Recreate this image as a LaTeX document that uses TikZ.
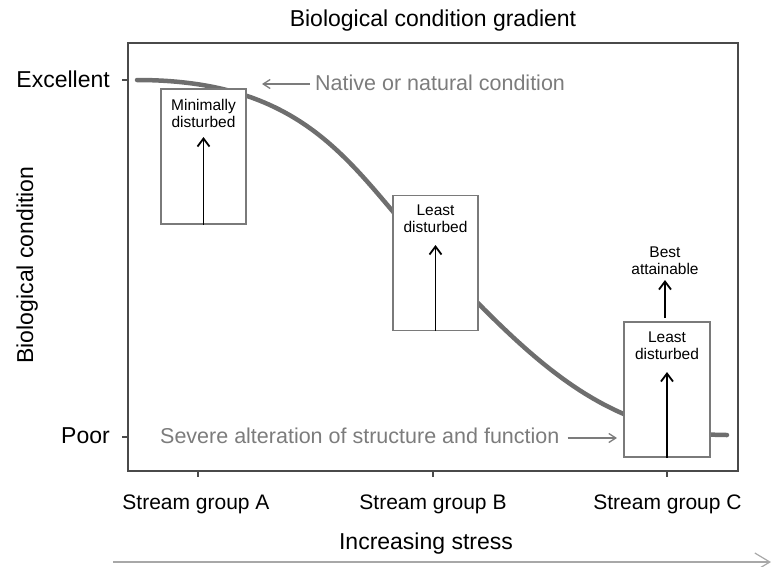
\documentclass[tikz,border=0pt]{standalone}
\usepackage{fontspec}
\setmainfont{Liberation Sans}
\usetikzlibrary{arrows.meta}
\definecolor{curvegray}{HTML}{6E6E6E}
\definecolor{framegray}{HTML}{4A4A4A}
\definecolor{boxgray}{HTML}{7A7A7A}
\definecolor{notegray}{HTML}{7C7C7C}
\definecolor{lightgray2}{HTML}{A8A8A8}
\begin{document}
\begin{tikzpicture}[x=1pt,y=-1pt,
  frame/.style={draw=framegray,line width=1.6pt},
  tickline/.style={draw=framegray,line width=1.3pt},
  curveline/.style={draw=curvegray,line width=4.5pt,line cap=round},
  bx/.style={draw=boxgray,fill=white,line width=1.1pt,inner sep=0pt,minimum width=85pt,minimum height=135pt},
  bt/.style={align=center,inner sep=0pt,font=\fontsize{15.5}{17.3}\selectfont},
  blk/.style={draw=black,line width=1.8pt,-{Straight Barb[length=8pt,width=12pt,line width=1.8pt]}},
  garr/.style={draw=notegray,line width=1.3pt,-{Straight Barb[length=7pt,width=9pt,line width=1.3pt]}},
  bigtxt/.style={inner sep=0pt,font=\fontsize{23}{27}\selectfont},
  midtxt/.style={inner sep=0pt,font=\fontsize{21}{25}\selectfont},
  note/.style={inner sep=0pt,text=notegray,font=\fontsize{21.5}{25}\selectfont}]
\useasboundingbox (0,0) rectangle (772,566);
% frame
\draw[frame] (128,43) rectangle (738,471);
% ticks
\coordinate (yExc) at (128,80);
\coordinate (yPoor) at (128,437);
\draw[tickline] (yExc) -- ++(-6,0);
\draw[tickline] (yPoor) -- ++(-6,0);
\coordinate (xA) at (198,471);
\coordinate (xB) at (433,471);
\coordinate (xC) at (667,471);
\draw[tickline] (xA) -- ++(0,6);
\draw[tickline] (xB) -- ++(0,6);
\draw[tickline] (xC) -- ++(0,6);
% curve
\coordinate (cStart) at (137,80);
\coordinate (cMid) at (435,259);
\coordinate (cEnd) at (727,435);
\draw[curveline] (cStart) .. controls (317,80) and (355,176.6) .. (cMid)
  .. controls (525,351.7) and (600,435) .. (cEnd);
% boxes
\node[bx] (boxA) at (203.5,156.5) {};
\node[bx] (boxB) at (435.5,263) {};
\node[bx,minimum width=86pt] (boxC) at (667,389.5) {};
\node[bt] (tA) at (203.5,113.7) {Minimally\\disturbed};
\node[bt] (tB) at (435.5,218.9) {Least\\disturbed};
\node[bt] (tC) at (667,345.9) {Least\\disturbed};
\node[bt] (tBest) at (665,260.9) {Best\\attainable};
\coordinate (aA) at (203.5,137);
\coordinate (aB) at (435.5,245);
\coordinate (aC) at (667,372);
\coordinate (aBest) at (665,280);
\coordinate (bestFoot) at (665,318);
\draw[blk] (boxA.south) -- (aA);
\draw[blk] (boxB.south) -- (aB);
\draw[blk] (boxC.south) -- (aC);
\draw[blk] (bestFoot) -- (aBest);
% labels
\node[bigtxt,anchor=base] (title) at (433,26) {Biological condition gradient};
\node[bigtxt,anchor=base east] (exc) at (110,87) {Excellent};
\node[bigtxt,anchor=base east] (poor) at (110,443) {Poor};
\node[bigtxt,anchor=base,rotate=90] (ylab) at (33,265) {Biological condition};
\node[note,anchor=base west] (native) at (315,90) {Native or natural condition};
\coordinate (nativeTip) at (262,84);
\draw[garr] (native.west |- nativeTip) ++(-5,0) -- (nativeTip);
\node[note,anchor=base west] (severe) at (160,443) {Severe alteration of structure and function};
\coordinate (severeTip) at (617,438);
\draw[garr] (severe.east |- severeTip) ++(8,0) -- (severeTip);
\node[midtxt,anchor=base] (sA) at (196,509) {Stream group A};
\node[midtxt,anchor=base] (sB) at (433,509) {Stream group B};
\node[midtxt,anchor=base] (sC) at (667.5,509) {Stream group C};
\node[bigtxt,anchor=base] (stress) at (426,549) {Increasing stress};
\coordinate (sStart) at (113,562);
\coordinate (sEnd) at (771,562);
\draw[draw=lightgray2,line width=1.2pt,-{Straight Barb[length=15pt,width=18pt,line width=1.2pt]}] (sStart) -- (sEnd);
\end{tikzpicture}
\end{document}
